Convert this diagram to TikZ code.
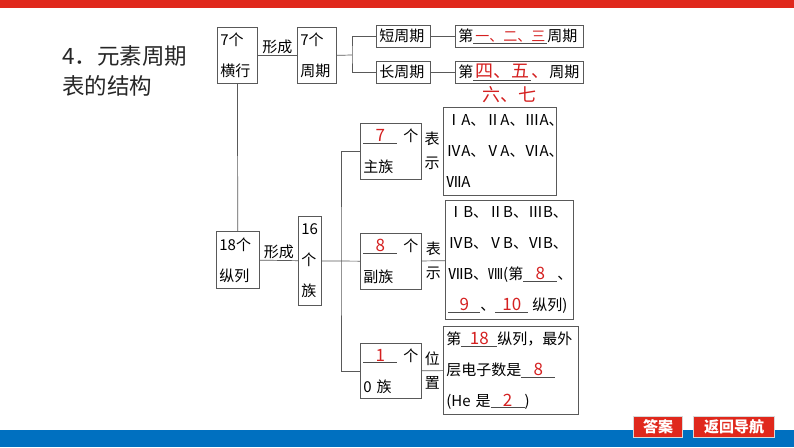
\documentclass[tikz,border=0pt]{standalone}
\usepackage{fontspec}
\setmainfont{Noto Sans CJK SC}
\usepackage{tikz}
\usetikzlibrary{positioning}
\definecolor{ansred}{RGB}{212,32,32}
\definecolor{barred}{RGB}{224,40,28}
\definecolor{barblue}{RGB}{0,112,192}
\newcommand{\boxfont}{\fontsize{15}{31}\selectfont}
\newcommand{\ansfont}{\fontsize{17}{17}\selectfont}
\newcommand{\fillin}[2]{\textcolor{black!70}{\underline{\makebox[#1]{\ansfont\color{ansred}#2}}}}

\begin{document}
\begin{tikzpicture}[
  x=1pt, y=-1pt,
  font=\boxfont,
  cell/.style={draw=black!65, line width=0.7pt, anchor=north west,
               align=left, inner xsep=3pt, inner ysep=2pt},
  link/.style={draw=black!65, line width=0.7pt},
  lab/.style={inner sep=1pt},
  vlab/.style={align=center, inner sep=0pt, font=\fontsize{15}{24}\selectfont},
  btn/.style={fill=barred, draw=black!15, line width=1.2pt, text=white,
              font=\fontsize{15}{15}\selectfont\bfseries, inner sep=0pt,
              minimum height=21pt, anchor=north west}
]
\useasboundingbox (0,0) rectangle (794,447);

\fill[barred] (0,0) rectangle (794,8);
\fill[barblue] (0,430) rectangle (794,447);

\node[anchor=north west, align=left, inner sep=0pt, text=black!85,
      font=\fontsize{22.5}{30}\selectfont] (title) at (62,45) {4．元素周期\\表的结构};

\node[cell, text width=34pt, minimum height=56pt] (hang) at (217,27) {7个\\横行};
\node[cell, text width=33pt, minimum height=56pt] (zhouqi) at (297,27) {7个\\周期};
\node[cell, text width=48pt, minimum height=22pt] (duan) at (376,25) {短周期};
\node[cell, text width=48pt, minimum height=22pt] (chang) at (376,61) {长周期};
\node[cell, text width=122pt, minimum height=22pt] (duanx) at (455,25)
  {第\fillin{74pt}{\fontsize{14}{14}\selectfont 一、二、三}周期};
\node[cell, text width=122pt, minimum height=22pt] (changx) at (455,61)
  {第\fillin{58pt}{\fontsize{18}{18}\selectfont 四、五}{\color{ansred}\fontsize{18}{18}\selectfont 、}周期};
\node[text=ansred, font=\fontsize{18}{18}\selectfont, inner sep=1pt] (qiliu) at (509,95) {六、七};

\node[cell, text width=37pt, minimum height=57pt] (zong) at (216,231) {18个\\纵列};
\node[cell, text width=17pt, minimum height=89pt] (zu) at (298,216) {16\\个\\族};

\node[cell, text width=55pt, minimum height=56pt] (zhu) at (360,123)
  {\fillin{34pt}{7}\hspace{6pt}个\\主族};
\node[cell, text width=55pt, minimum height=56pt] (fu) at (360,233)
  {\fillin{34pt}{8}\hspace{6pt}个\\副族};
\node[cell, text width=55pt, minimum height=55pt] (ling) at (360,343)
  {\fillin{34pt}{1}\hspace{6pt}个\\0 族};

\node[cell, text width=107pt, minimum height=88pt] (zhux) at (443,107)
  {ⅠA、ⅡA、ⅢA、\\ⅣA、ⅤA、ⅥA、\\ⅦA};
\node[cell, text width=122pt, minimum height=119pt] (fux) at (445,200)
  {ⅠB、ⅡB、ⅢB、\\ⅣB、ⅤB、ⅥB、\\ⅦB、Ⅷ(第\fillin{34pt}{8}、\\\fillin{32pt}{9}、\fillin{33pt}{10}\hspace{4pt}纵列)};
\node[cell, text width=129pt, minimum height=88pt] (lingx) at (443,326)
  {第\fillin{36pt}{18}纵列，最外\\层电子数是\fillin{34pt}{8}\\(He 是\fillin{34pt}{2})};

\node[vlab] (biaoshi) at (432,151) {表\\示};

\coordinate (pj) at (352,55);
\coordinate (zj) at (341,261);

\draw[link] (hang) -- node[above, lab] {形成} (zhouqi);
\draw[link] (zhouqi.east) -- (pj);
\draw[link] (duan.west) -| (pj) |- (chang.west);
\draw[link] (duan) -- (duanx);
\draw[link] (chang) -- (changx);
\draw[link] (hang) -- (zong);
\draw[link] (zong) -- node[above, lab] {形成} (zu);
\draw[link] (zu) -- (fu);
\draw[link] (zhu.west) -| (zj) |- (ling.west);
\draw[link] (fu) -- node[vlab] {表\\示} (fux);
\draw[link] (ling) -- node[vlab] {位\\置} (lingx);

\node[btn, minimum width=49pt] (daan) at (633,416) {答案};
\node[btn, minimum width=81pt] (fanhui) at (693,416) {返回导航};
\end{tikzpicture}
\end{document}
